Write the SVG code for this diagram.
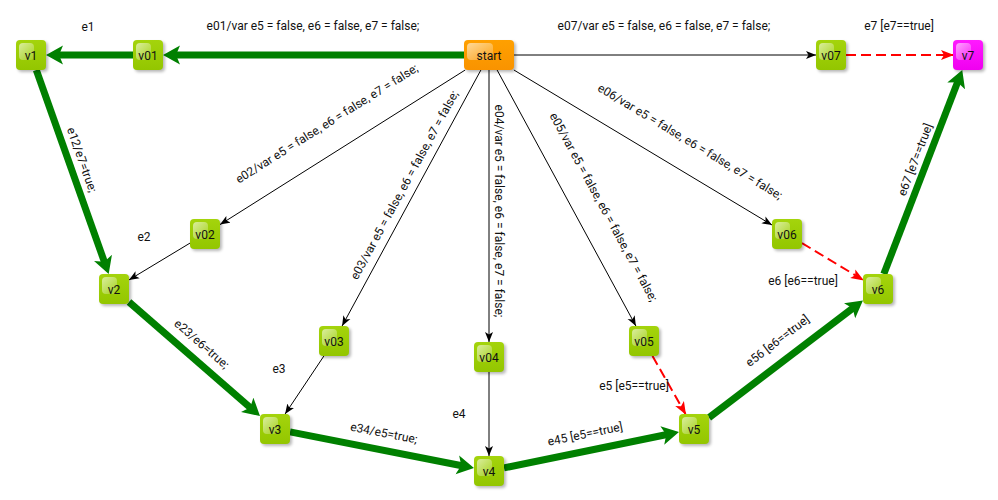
<svg xmlns="http://www.w3.org/2000/svg" width="998" height="500" viewBox="0 0 998 500">
<style>
text{font-family:Roboto,"Liberation Sans",sans-serif;font-size:12px;fill:#111}
.node text{text-anchor:middle}
.lbl{text-anchor:middle}
.lblh{text-anchor:middle}
.thick{stroke:#008000;stroke-width:7;fill:none;marker-end:url(#ag)}
.thin{stroke:#000;stroke-width:1;fill:none;marker-end:url(#ak)}
.dash{stroke:#ff0000;stroke-width:2;stroke-dasharray:10 5;fill:none;marker-end:url(#ar)}
.sh{fill:#000;opacity:.28;filter:url(#blur)}
.g{fill:url(#gg)}
.o{fill:url(#go)}
.m{fill:url(#gm)}
.hl{fill:url(#gh)}
</style>
<defs>
<filter id="blur" x="-30%" y="-30%" width="160%" height="160%"><feGaussianBlur stdDeviation="1.5"/></filter>
<linearGradient id="gg" x1="0" y1="0" x2="0" y2="1"><stop offset="0" stop-color="#a4d40c"/><stop offset="1" stop-color="#93c600"/></linearGradient>
<linearGradient id="go" x1="0" y1="0" x2="0" y2="1"><stop offset="0" stop-color="#ffa000"/><stop offset="1" stop-color="#f99300"/></linearGradient>
<linearGradient id="gm" x1="0" y1="0" x2="0" y2="1"><stop offset="0" stop-color="#ff1aff"/><stop offset="1" stop-color="#f000f0"/></linearGradient>
<linearGradient id="gh" x1="0" y1="0" x2="1" y2="1"><stop offset="0" stop-color="#fff" stop-opacity=".6"/><stop offset="1" stop-color="#fff" stop-opacity=".1"/></linearGradient>
<marker id="ag" markerUnits="userSpaceOnUse" markerWidth="20" markerHeight="20" refX="6" refY="10" orient="auto"><path d="M0,0.5 L17,10 L0,19.5 L4,10 Z" fill="#008000"/></marker>
<marker id="ak" markerUnits="userSpaceOnUse" markerWidth="12" markerHeight="10" refX="10" refY="4.5" orient="auto"><path d="M0,0.5 L10,4.5 L0,8.5 L2.5,4.5 Z" fill="#000"/></marker>
<marker id="ar" markerUnits="userSpaceOnUse" markerWidth="14" markerHeight="12" refX="12" refY="5.5" orient="auto"><path d="M0,0.5 L13,5.5 L0,10.5 L3,5.5 Z" fill="#ff0000"/></marker>
</defs>
<rect width="998" height="500" fill="#fff"/>
<g id="connectors">
<line class="thick" x1="464" y1="55" x2="174" y2="55"/>
<line class="thick" x1="133" y1="55" x2="57" y2="55"/>
<line class="thick" x1="36.3" y1="70" x2="105" y2="263.6"/>
<line class="thick" x1="129" y1="302" x2="251.7" y2="408.8"/>
<line class="thick" x1="290" y1="431.9" x2="463.2" y2="466"/>
<line class="thick" x1="504" y1="467.9" x2="668.2" y2="434.3"/>
<line class="thick" x1="709" y1="417.6" x2="854.2" y2="307.1"/>
<line class="thick" x1="883.8" y1="274" x2="958.3" y2="80.3"/>
<line class="thin" x1="514" y1="55" x2="816" y2="55"/>
<line class="thin" x1="465.2" y1="70" x2="220" y2="224.6"/>
<line class="thin" x1="480.9" y1="70" x2="342.1" y2="326"/>
<line class="thin" x1="489" y1="70" x2="489" y2="342"/>
<line class="thin" x1="497.1" y1="70" x2="635.9" y2="326"/>
<line class="thin" x1="513.9" y1="70" x2="772" y2="225"/>
<line class="thin" x1="190" y1="243.1" x2="129" y2="279.9"/>
<line class="thin" x1="323.9" y1="356" x2="285.1" y2="414"/>
<line class="thin" x1="489" y1="372" x2="489" y2="456"/>
<line class="dash" x1="652.5" y1="356" x2="685.5" y2="414"/>
<line class="dash" x1="802" y1="243.1" x2="863" y2="279.9"/>
<line class="dash" x1="846" y1="55" x2="953" y2="55"/>
</g>
<g id="labels">
<text class="lblh" x="88" y="31">e1</text>
<text class="lblh" x="313" y="30">e01/var e5 = false, e6 = false, e7 = false;</text>
<text class="lblh" x="664" y="30">e07/var e5 = false, e6 = false, e7 = false;</text>
<text class="lblh" x="899" y="30">e7 [e7==true]</text>
<text class="lblh" x="144" y="241">e2</text>
<text class="lblh" x="279" y="373">e3</text>
<text class="lblh" x="459" y="418">e4</text>
<text class="lblh" x="634" y="390">e5 [e5==true]</text>
<text class="lblh" x="803" y="285">e6 [e6==true]</text>
<text class="lbl" transform="translate(329,127) rotate(-32.2)">e02/var e5 = false, e6 = false, e7 = false;</text>
<text class="lbl" transform="translate(408,187) rotate(-61.5)">e03/var e5 = false, e6 = false, e7 = false;</text>
<text class="lbl" transform="translate(495,211) rotate(90)">e04/var e5 = false, e6 = false, e7 = false;</text>
<text class="lbl" transform="translate(600,209) rotate(61.5)">e05/var e5 = false, e6 = false, e7 = false;</text>
<text class="lbl" transform="translate(688,145) rotate(31)">e06/var e5 = false, e6 = false, e7 = false;</text>
<text class="lbl" transform="translate(78,161) rotate(70.5)">e12/e7=true;</text>
<text class="lbl" transform="translate(199,347) rotate(41)">e23/e6=true;</text>
<text class="lbl" transform="translate(383,437) rotate(11.1)">e34/e5=true;</text>
<text class="lbl" transform="translate(586,438) rotate(-11.6)">e45 [e5==true]</text>
<text class="lbl" transform="translate(780,344) rotate(-37.3)">e56 [e6==true]</text>
<text class="lbl" transform="translate(919,161) rotate(-69)">e67 [e7==true]</text>
</g>
<g id="start" class="node" transform="translate(464,40)"><rect class="sh" x="2" y="2" width="50" height="30" rx="4"/><rect class="o" width="50" height="30" rx="4"/><rect class="hl" x="3" y="3" width="26" height="17" rx="4"/><text x="25" y="19.5">start</text></g>
<g id="v01" class="node" transform="translate(133,40)"><rect class="sh" x="2" y="2" width="30" height="30" rx="4"/><rect class="g" width="30" height="30" rx="4"/><rect class="hl" x="3" y="3" width="15" height="17" rx="4"/><text x="15" y="19.5">v01</text></g>
<g id="v1" class="node" transform="translate(16,40)"><rect class="sh" x="2" y="2" width="30" height="30" rx="4"/><rect class="g" width="30" height="30" rx="4"/><rect class="hl" x="3" y="3" width="15" height="17" rx="4"/><text x="15" y="19.5">v1</text></g>
<g id="v07" class="node" transform="translate(816,40)"><rect class="sh" x="2" y="2" width="30" height="30" rx="4"/><rect class="g" width="30" height="30" rx="4"/><rect class="hl" x="3" y="3" width="15" height="17" rx="4"/><text x="15" y="19.5">v07</text></g>
<g id="v7" class="node" transform="translate(953,40)"><rect class="sh" x="2" y="2" width="30" height="30" rx="4"/><rect class="m" width="30" height="30" rx="4"/><rect class="hl" x="3" y="3" width="15" height="17" rx="4"/><text x="15" y="19.5">v7</text></g>
<g id="v02" class="node" transform="translate(190,219)"><rect class="sh" x="2" y="2" width="30" height="30" rx="4"/><rect class="g" width="30" height="30" rx="4"/><rect class="hl" x="3" y="3" width="15" height="17" rx="4"/><text x="15" y="19.5">v02</text></g>
<g id="v2" class="node" transform="translate(99,274)"><rect class="sh" x="2" y="2" width="30" height="30" rx="4"/><rect class="g" width="30" height="30" rx="4"/><rect class="hl" x="3" y="3" width="15" height="17" rx="4"/><text x="15" y="19.5">v2</text></g>
<g id="v03" class="node" transform="translate(319,326)"><rect class="sh" x="2" y="2" width="30" height="30" rx="4"/><rect class="g" width="30" height="30" rx="4"/><rect class="hl" x="3" y="3" width="15" height="17" rx="4"/><text x="15" y="19.5">v03</text></g>
<g id="v3" class="node" transform="translate(260,414)"><rect class="sh" x="2" y="2" width="30" height="30" rx="4"/><rect class="g" width="30" height="30" rx="4"/><rect class="hl" x="3" y="3" width="15" height="17" rx="4"/><text x="15" y="19.5">v3</text></g>
<g id="v04" class="node" transform="translate(474,342)"><rect class="sh" x="2" y="2" width="30" height="30" rx="4"/><rect class="g" width="30" height="30" rx="4"/><rect class="hl" x="3" y="3" width="15" height="17" rx="4"/><text x="15" y="19.5">v04</text></g>
<g id="v4" class="node" transform="translate(474,456)"><rect class="sh" x="2" y="2" width="30" height="30" rx="4"/><rect class="g" width="30" height="30" rx="4"/><rect class="hl" x="3" y="3" width="15" height="17" rx="4"/><text x="15" y="19.5">v4</text></g>
<g id="v05" class="node" transform="translate(629,326)"><rect class="sh" x="2" y="2" width="30" height="30" rx="4"/><rect class="g" width="30" height="30" rx="4"/><rect class="hl" x="3" y="3" width="15" height="17" rx="4"/><text x="15" y="19.5">v05</text></g>
<g id="v5" class="node" transform="translate(679,414)"><rect class="sh" x="2" y="2" width="30" height="30" rx="4"/><rect class="g" width="30" height="30" rx="4"/><rect class="hl" x="3" y="3" width="15" height="17" rx="4"/><text x="15" y="19.5">v5</text></g>
<g id="v06" class="node" transform="translate(772,219)"><rect class="sh" x="2" y="2" width="30" height="30" rx="4"/><rect class="g" width="30" height="30" rx="4"/><rect class="hl" x="3" y="3" width="15" height="17" rx="4"/><text x="15" y="19.5">v06</text></g>
<g id="v6" class="node" transform="translate(863,274)"><rect class="sh" x="2" y="2" width="30" height="30" rx="4"/><rect class="g" width="30" height="30" rx="4"/><rect class="hl" x="3" y="3" width="15" height="17" rx="4"/><text x="15" y="19.5">v6</text></g>
</svg>
